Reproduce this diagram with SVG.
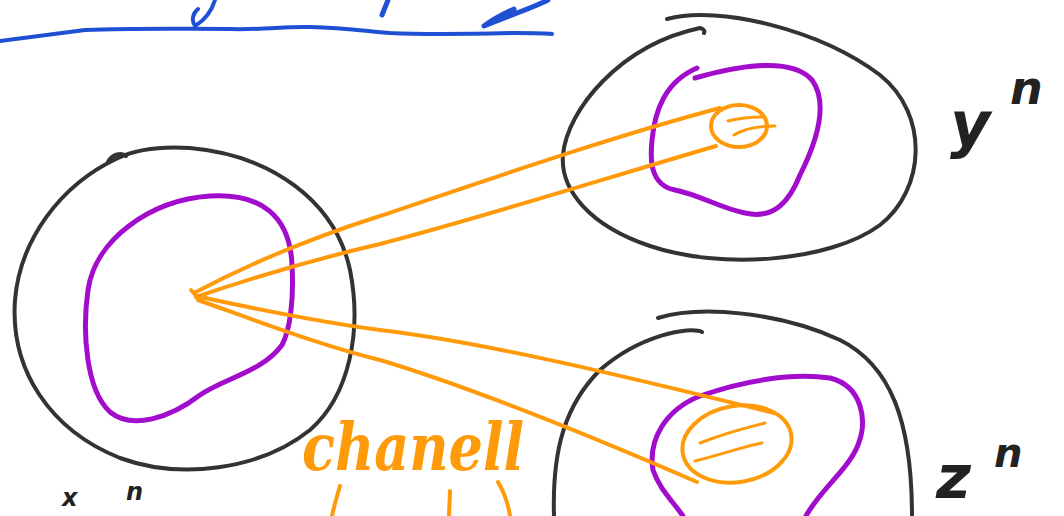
<svg xmlns="http://www.w3.org/2000/svg" width="1064" height="516" viewBox="0 0 1064 516">
  <style>
    .ink { fill: none; stroke-linecap: round; stroke-linejoin: round; }
    .blk { stroke: #333333; stroke-width: 4; }
    .pur { stroke: #a20ccc; stroke-width: 5; }
    .org { stroke: #ff9a0a; stroke-width: 4; }
    .org-thin { stroke: #ff9a0a; stroke-width: 3; }
    .blu { stroke: #1f4fd2; stroke-width: 4; }
    .hand { font-family: "DejaVu Sans", "Liberation Sans", sans-serif; font-style: italic; font-weight: bold; fill: #222222; }
    .orange-hand { font-family: "DejaVu Serif", "Liberation Serif", serif; font-style: italic; font-weight: bold; fill: #ff9a0a; }
  </style>
  <rect width="1064" height="516" fill="#ffffff"/>

  <!-- heading scribble at the top edge, underlined -->
  <g id="heading" class="ink blu">
    <path d="M 0,41 C 40,36 70,32 85,30 C 140,28 180,29 230,29 C 265,30 285,26 310,27 C 345,28 365,31 390,33 C 430,35 470,34 515,33 C 530,33 545,33 552,34"/>
    <path d="M 215,0 C 212,10 205,20 195,26 C 191,20 193,13 198,9"/>
    <path d="M 388,0 L 382,15" stroke-width="5"/>
    <path d="M 548,0 C 530,9 505,17 484,26 C 492,20 503,14 514,9" stroke-width="5"/>
  </g>

  <!-- source set: outer region and typical subset -->
  <g id="node-x">
    <path class="ink blk" d="M 118,158 C 60,185 20,240 15,300 C 10,370 50,430 120,458 C 180,480 260,470 310,430 C 350,395 362,330 350,270 C 335,200 270,155 190,148 C 160,146 135,150 118,158"/>
    <path class="ink blk" d="M 108,162 C 112,154 122,152 126,156" stroke-width="5"/>
    <path class="ink pur" d="M 210,196 C 260,193 290,215 292,265 C 294,300 290,330 282,345 C 262,372 225,378 200,395 C 170,418 132,430 110,412 C 86,390 82,332 88,290 C 95,240 150,200 210,196 Z"/>
  </g>

  <!-- output set y^n -->
  <g id="node-y">
    <path class="ink blk" d="M 667,19 C 720,5 820,30 880,75 C 930,115 925,190 880,225 C 830,262 720,270 650,246 C 590,226 560,190 563,155 C 567,110 620,45 700,28 C 704,29 705,31 704,33"/>
    <path class="ink pur" d="M 695,78 C 730,68 790,55 812,80 C 830,105 815,145 800,175 C 790,200 775,220 745,213 C 720,208 700,195 675,190 C 650,185 650,160 652,140 C 655,110 665,82 697,68"/>
    <ellipse class="ink org" cx="739" cy="126" rx="28" ry="21"/>
    <path class="ink org-thin" d="M 728,121 C 740,118 752,117 762,117 M 734,135 C 745,128 760,126 775,126"/>
    <text class="hand" x="950" y="146" font-size="62">y</text>
    <text class="hand" x="1010" y="104" font-size="46">n</text>
  </g>

  <!-- output set z^n -->
  <g id="node-z">
    <path class="ink blk" d="M 658,318 C 700,305 780,312 840,340 C 890,365 912,420 912,516"/>
    <path class="ink blk" d="M 702,332 C 690,326 640,335 600,370 C 565,405 552,450 554,516"/>
    <path class="ink pur" d="M 683,516 C 672,500 660,490 653,470 C 648,440 665,410 700,396 C 740,382 790,372 830,378 C 862,386 868,420 858,445 C 848,470 820,490 806,516"/>
    <ellipse class="ink org" cx="737" cy="444" rx="55" ry="38" transform="rotate(-10 737 444)"/>
    <path class="ink org-thin" d="M 700,443 C 720,435 745,428 765,423 M 695,461 C 720,455 745,446 762,443"/>
    <text class="hand" x="936" y="498" font-size="60">z</text>
    <text class="hand" x="994" y="467" font-size="40">n</text>
  </g>

  <!-- channel transitions from a single input sequence -->
  <g id="connectors" class="ink org">
    <path d="M 194,293 C 260,258 330,232 380,216 C 470,186 600,140 720,108"/>
    <path d="M 196,297 C 260,275 320,258 380,244 C 480,218 600,180 716,146"/>
    <path d="M 196,296 C 260,310 320,322 380,330 C 480,342 600,370 774,413"/>
    <path d="M 198,300 C 260,322 320,345 380,360 C 480,390 600,440 697,482"/>
    <path d="M 191,290 L 200,300"/>
  </g>

  <!-- channel label; the second line runs off the lower edge -->
  <g id="label-channel">
    <text class="orange-hand" x="302" y="470" font-size="66" textLength="222" lengthAdjust="spacingAndGlyphs">chanell</text>
    <path class="ink org" d="M 340,486 C 337,496 334,506 332,516 M 450,491 L 449,516 M 498,482 C 504,492 508,503 510,516" stroke-width="5"/>
  </g>

  <!-- input set x^n -->
  <g id="label-x">
    <text class="hand" x="62" y="506" font-size="24">x</text>
    <text class="hand" x="126" y="500" font-size="24">n</text>
  </g>
</svg>
